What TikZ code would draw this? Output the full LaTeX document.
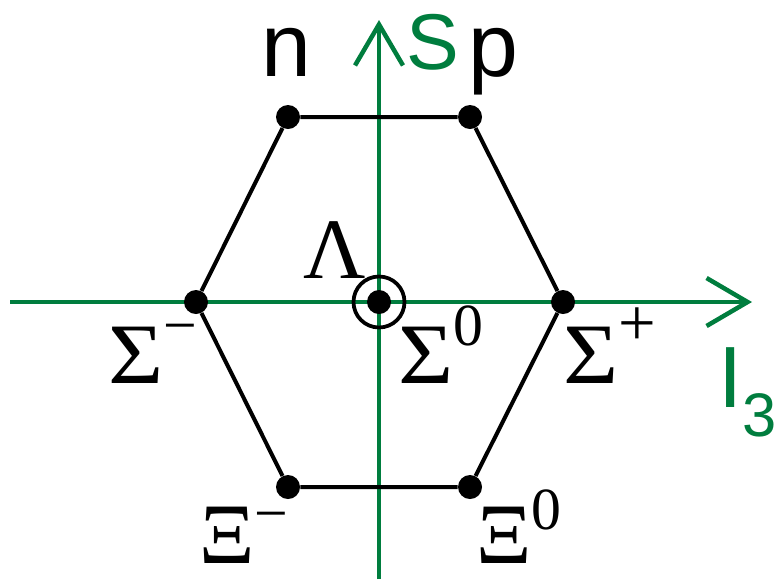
\documentclass[tikz,border=0pt]{standalone}
\usepackage{fontspec}
\setmainfont{Liberation Serif}
\newfontfamily\sansfont{Liberation Sans}
\usetikzlibrary{arrows.meta}
\definecolor{axisgreen}{RGB}{0,125,62}
\newcommand\hsup[2][21.6pt]{\raisebox{#1}{\fontsize{34}{36}\selectfont #2}}
\newcommand\wide[1]{\scalebox{1.1}[1]{#1}}

\begin{document}
\begin{tikzpicture}[x=0.2mm, y=-0.2mm,
  dot/.style={circle, fill=black, inner sep=0pt, minimum size=4.8mm},
  hex/.style={line width=0.8mm},
  axis/.style={draw=axisgreen, line width=0.9mm, -{Straight Barb[length=8.2mm, width=9.6mm]}},
  grk/.style={inner sep=0pt, anchor=base west, font=\fontsize{49}{51}\selectfont},
  sans/.style={inner sep=0pt, anchor=base west, font=\sansfont\fontsize{51}{53}\selectfont}]
\path[use as bounding box] (0,0) rectangle (775,579);
% axes
\coordinate (xl) at (10,302);
\coordinate (xr) at (752,302);
\coordinate (yb) at (379,579);
\coordinate (yt) at (379,20);
\draw[axis] (xl) -- (xr);
\draw[axis] (yb) -- (yt);
% octet points
\node[dot] (n) at (288,117) {};
\node[dot] (p) at (470,117) {};
\node[dot] (sm) at (196,302) {};
\node[dot] (sp) at (563,302) {};
\node[dot] (xm) at (288,487) {};
\node[dot] (x0) at (470,487) {};
\node[dot] (lam) at (379,302) {};
\node[circle, draw, line width=0.75mm, minimum size=10.2mm, inner sep=0pt] (ring) at (lam) {};
\draw[hex] (n) -- (p) -- (sp) -- (x0) -- (xm) -- (sm) -- (n);
% labels
\node[sans] (nlab) at (261,76) {n};
\node[sans] (plab) at (468,76) {p};
\node[sans, text=axisgreen, font=\sansfont\fontsize{45}{47}\selectfont] (Slab) at (406,69) {S};
\node[sans, text=axisgreen, font=\sansfont\fontsize{49.5}{52}\selectfont] (Ilab) at (718,407) {I\raisebox{-16.5pt}{\fontsize{35}{37}\selectfont 3}};
\node[grk] (smlab) at (108,383) {\wide{Σ}\hsup{−}};
\node[grk] (s0lab) at (398,383) {\wide{Σ}\hsup{0}};
\node[grk] (splab) at (563,383) {\wide{Σ}\hsup{\fontsize{38}{40}\selectfont +}};
\node[grk] (xmlab) at (199,563) {Ξ\hsup[17pt]{−}};
\node[grk] (x0lab) at (476,563) {Ξ\hsup[19pt]{0}};
\node[grk] (lamlab) at (303,278) {Λ};
\end{tikzpicture}
\end{document}
